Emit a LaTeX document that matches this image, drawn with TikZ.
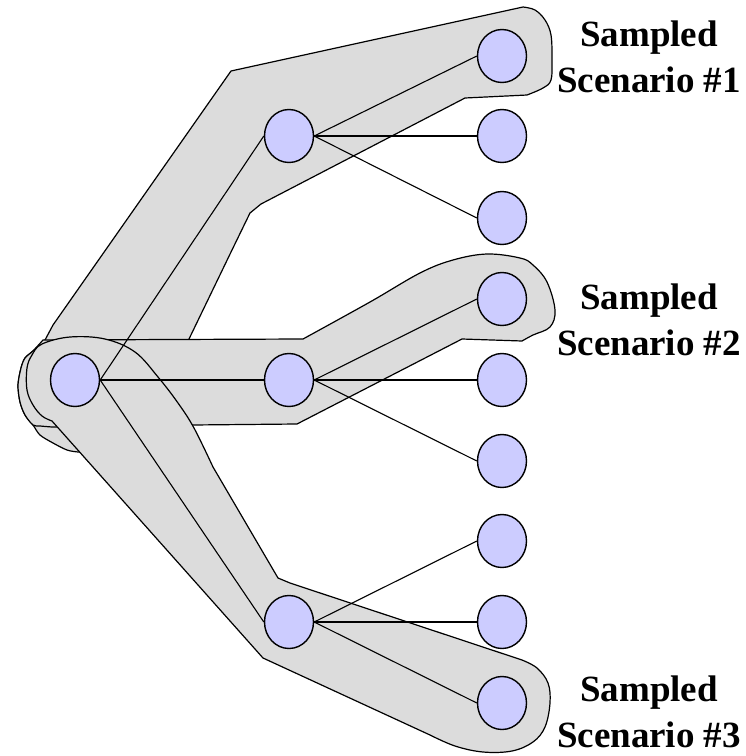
\documentclass[tikz,border=0pt]{standalone}
\usepackage{fontspec}
\setmainfont{Liberation Serif}
\usetikzlibrary{shapes.geometric}
\definecolor{blobgray}{HTML}{DCDCDC}
\definecolor{nodeblue}{HTML}{CCCCFF}
\begin{document}
\begin{tikzpicture}[x=1pt,y=-1pt,
  blob/.style={fill=blobgray,draw=black,line width=1.2pt,line join=round},
  state/.style={ellipse,draw=black,fill=nodeblue,line width=1.4pt,minimum width=49pt,minimum height=53pt,inner sep=0pt},
  edge/.style={draw=black,line width=1.1pt},
  lbl/.style={font=\fontsize{37}{46}\selectfont\bfseries,align=center,inner sep=0pt,anchor=base}]
\useasboundingbox (0,0) rectangle (746,756);
% scenario 1 blob
\path[blob] (45,340) -- (53,325) -- (231,71) -- (523,7)
  -- plot[smooth,tension=0.6] coordinates {(523,7)(535,10)(545,20)(551,35)(552,60)(551,80)(543,88)(527,95)}
  -- (465,98) -- (261,204) -- (250,213) -- (232,250) -- (189,339) -- (150,400) -- (100,440) -- (85,452)
  -- plot[smooth] coordinates {(85,452)(78,452)(67,450)(53,443)(40,435)(33,425)(25,415)(20,402)(18,385)(21,368)(25,358)(33,351)(45,340)}
  -- cycle;
% scenario 2 blob
\path[blob] (43,340) -- plot[smooth,tension=0.6] coordinates {(303,339)(370,302)(420,273)(453,260)(487,254)(520,258)(533,265)(547,282)(555,310)(550,327)(533,335)(522,341)}
  -- (462,339) -- (297,424) -- (192,425) -- (120,427) -- (52,427)
  -- plot[smooth] coordinates {(52,427)(40,426)(33,425)(25,415)(20,402)(18,385)(21,368)(25,358)(33,351)(43,340)}
  -- cycle;
% scenario 3 blob
\path[blob] plot[smooth,tension=0.6] coordinates {(52,421)(42,416)(33,405)(27,390)(27,368)(32,355)(42,344)(70,337)(105,339)(135,352)(158,377)(178,403)(194,428)(213,467)}
  -- (278,578) -- (290,583) -- (522,660)
  -- plot[smooth,tension=0.6] coordinates {(522,660)(537,668)(548,683)(550,703)(545,727)(533,742)(512,751)(483,752)(455,746)(430,735)}
  -- (263,658) -- cycle;
% nodes
\node[state] (r) at (75,380) {};
\node[state] (a1) at (289,136) {};
\node[state] (a2) at (289,380) {};
\node[state] (a3) at (289,622) {};
\node[state] (l11) at (502,56) {};
\node[state] (l12) at (502,136) {};
\node[state] (l13) at (502,218) {};
\node[state] (l21) at (502,299) {};
\node[state] (l22) at (502,380) {};
\node[state] (l23) at (502,461) {};
\node[state] (l31) at (502,541) {};
\node[state] (l32) at (502,622) {};
\node[state] (l33) at (502,703) {};
% edges
\draw[edge] (r.east) -- (a1.west);
\draw[edge] (r.east) -- (a2.west);
\draw[edge] (r.east) -- (a3.west);
\draw[edge] (a1.east) -- (l11.west);
\draw[edge] (a1.east) -- (l12.west);
\draw[edge] (a1.east) -- (l13.west);
\draw[edge] (a2.east) -- (l21.west);
\draw[edge] (a2.east) -- (l22.west);
\draw[edge] (a2.east) -- (l23.west);
\draw[edge] (a3.east) -- (l31.west);
\draw[edge] (a3.east) -- (l32.west);
\draw[edge] (a3.east) -- (l33.west);
% labels (anchor base = baseline of the last line)
\node[lbl] (s1) at (649,92) {Sampled\\Scenario \#1};
\node[lbl] (s2) at (649,355) {Sampled\\Scenario \#2};
\node[lbl] (s3) at (649,747) {Sampled\\Scenario \#3};
\end{tikzpicture}
\end{document}
